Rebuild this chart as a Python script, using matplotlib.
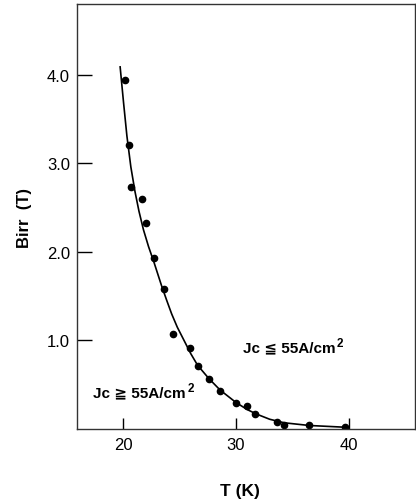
import matplotlib as mpl
mpl.use('Agg')
import matplotlib.pyplot as plt
import matplotlib.ticker as tick

#--------------------------------------------------------------------------------------------------------

# measured points (T [K], Birr [T])
vecT = [20.12, 20.53, 20.70, 21.65, 22.00, 22.74, 23.63, 24.40, 25.90, 26.60,
        27.60, 28.56, 30.00, 30.97, 31.70, 33.60, 34.30, 36.50, 39.70]
vecB = [3.94, 3.21, 2.73, 2.60, 2.33, 1.93, 1.58, 1.07, 0.92, 0.71,
        0.56, 0.43, 0.29, 0.26, 0.17, 0.08, 0.05, 0.04, 0.02]

# guide curve
curveT = [19.73, 20.03, 20.33, 20.68, 21.05, 21.40, 21.80, 22.25, 22.74, 23.40, 23.87, 24.30, 24.80,
          25.40, 26.00, 26.60, 27.60, 28.60, 30.00, 31.00, 31.80, 33.00, 34.30, 36.50, 39.70]
curveB = [4.09, 3.69, 3.31, 2.96, 2.68, 2.46, 2.25, 2.06, 1.88, 1.62, 1.45, 1.30, 1.15,
          1.00, 0.85, 0.72, 0.57, 0.44, 0.30, 0.22, 0.17, 0.11, 0.07, 0.04, 0.02]

xTicks = [20, 30, 40]
yTicks = [1.0, 2.0, 3.0, 4.0]

labelUpper = "Jc ≦ 55A/cm"
labelLower = "Jc ≧ 55A/cm"
labelSup   = "2"

#--------------------------------------------------------------------------------------------------------

plt.rcParams['font.family'] = ['Liberation Sans', 'DejaVu Sans']

fig = plt.figure(figsize=(4.16, 5.02), dpi=100)
ax1 = fig.add_axes([0.185, 0.1434, 0.813, 0.8466])

ax1.plot(curveT, curveB, color='k', linewidth=1.2)
ax1.plot(vecT, vecB, 'o', color='k', markersize=4.5)

ax1.set_xlim(15.9, 45.9)
ax1.set_ylim(0.0, 4.8)
ax1.xaxis.set_major_locator(tick.FixedLocator(xTicks))
ax1.yaxis.set_major_locator(tick.FixedLocator(yTicks))
ax1.yaxis.set_major_formatter(tick.FormatStrFormatter('%.1f'))

ax1.tick_params(axis='x', direction='in', length=8, width=1.0, pad=6, labelsize=12)
ax1.tick_params(axis='y', direction='in', length=11, width=1.0, pad=5, labelsize=12)
for sp in ax1.spines.values():
    sp.set_linewidth(1.0)
    sp.set_color('#333333')

ax1.set_ylabel("Birr  (T)", fontsize=12, fontweight='bold')
ax1.yaxis.set_label_coords(-0.133, 0.5)
ax1.set_xlabel("T (K)", fontsize=12.5, fontweight='bold')
ax1.xaxis.set_label_coords(0.482, -0.126)

# region labels, the "2" is set as a raised superscript next to "cm"
for (x, y, s) in [(30.62, 0.878, labelUpper), (17.35, 0.37, labelLower)]:
    t = ax1.text(x, y, s, fontsize=11, fontweight='bold', va='baseline')
    ax1.annotate(labelSup, xy=(1.0, 1.0), xycoords=t, xytext=(1.0, 2.0), textcoords='offset points',
                 ha='left', va='top', fontsize=8.5, fontweight='bold')

plt.savefig("out.png", dpi=100)
